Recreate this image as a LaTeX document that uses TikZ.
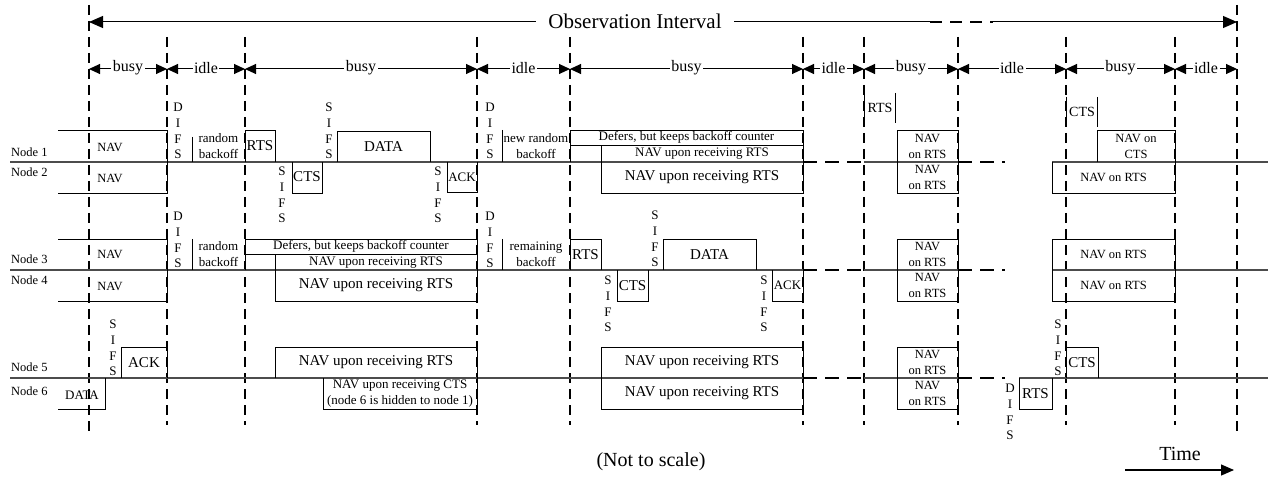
\documentclass[tikz,border=0pt]{standalone}
\usepackage{fontspec}
\setmainfont{Liberation Serif}
\usetikzlibrary{arrows.meta}
\begin{document}
\begin{tikzpicture}[x=1pt,y=-1pt,
  tl/.style={line width=1.1pt, draw=black!70},
  bx/.style={line width=0.9pt},
  vdash/.style={line width=2.4pt, dash pattern=on 10pt off 6pt},
  hdash/.style={line width=2.4pt, dash pattern=on 14pt off 8pt},
  tA/.style={font=\fontsize{13}{16}\selectfont, inner sep=0pt, align=center},
  tN/.style={font=\fontsize{12.5}{16}\selectfont, inner sep=0pt, align=center},
  tB/.style={font=\fontsize{15}{18}\selectfont, inner sep=0pt, align=center},
  vt/.style={font=\fontsize{13}{15.8}\selectfont, inner sep=0pt, align=center},
  lbl/.style={font=\fontsize{12.5}{15}\selectfont, inner sep=0pt, anchor=west},
  segtxt/.style={font=\fontsize{16}{18}\selectfont, fill=white, inner xsep=1.5pt, inner ysep=1pt},
  bitip/.style={{Triangle[length=11pt,width=10pt]}-{Triangle[length=11pt,width=10pt]}, line width=1pt},
]
\useasboundingbox (0,0) rectangle (1268,478);

% ---------- vertical dashed markers ----------
\foreach \x/\t/\b in {89/5/433, 167/37/425, 245/37/425, 477/37/425, 570/37/425,
                      803/37/425, 864/37/425, 958/37/425, 1066/37/425, 1175/37/425, 1237/5/433}
  \draw[vdash] (\x,\t) -- (\x,\b);

% ---------- observation interval ----------
\coordinate (oL) at (89,22);
\coordinate (oD1) at (930,22);
\coordinate (oD2) at (993,22);
\coordinate (oR) at (1237,22);
\draw[line width=1pt, {Triangle[length=14pt,width=12pt]}-] (oL) -- (oD1);
\draw[line width=2pt, dash pattern=on 12pt off 8pt] (oD1) -- (oD2);
\draw[line width=1pt, -{Triangle[length=14pt,width=12pt]}] (oD2) -- (oR);
\node[fill=white, inner xsep=12pt, inner ysep=2pt, font=\fontsize{21}{24}\selectfont] (obs) at (635,21) {Observation Interval};

% ---------- busy / idle ----------
\foreach \a/\b/\w [count=\i] in {89/167/busy, 167/245/idle, 245/477/busy, 477/570/idle, 570/803/busy,
                      803/864/idle, 864/958/busy, 958/1066/idle, 1066/1175/busy, 1175/1237/idle}
{
  \coordinate (sa\i) at (\a,69);
  \coordinate (sb\i) at (\b,69);
  \draw[bitip] (sa\i) -- (sb\i);
  \node[segtxt] (st\i) at ({(\a+\b)/2},68) {\w};
}

% ---------- time lines ----------
\foreach \y/\s in {162/1052, 270/1052, 378/1019}
{
  \draw[tl] (10,\y) -- (803,\y);
  \draw[tl] (864,\y) -- (958,\y);
  \draw[tl] (\s,\y) -- (1268,\y);
  \draw[hdash] (803,\y) -- (864,\y);
  \draw[hdash] (958,\y) -- (1005,\y);
}

% ---------- node labels ----------
\node[lbl] (n1) at (11,152) {Node 1};
\node[lbl] (n2) at (11,172) {Node 2};
\node[lbl] (n3) at (11,259) {Node 3};
\node[lbl] (n4) at (11,280) {Node 4};
\node[lbl] (n5) at (11,367) {Node 5};
\node[lbl] (n6) at (11,391) {Node 6};

% ================= Node 1 / Node 2 =================
\draw[bx] (58,130) -- (167,130) -- (167,193) -- (58,193);
\node[tN] (nav1) at (110,147) {NAV};
\node[tN] (nav2) at (110,178) {NAV};
\node[vt] (difs1a) at (178,131) {D\\I\\F\\S};
\draw[bx] (192,137) -- (192,162);
\node[tA] (rb1) at (218.5,146) {random\\backoff};
\draw[bx] (245,162) -- (245,130) -- (275,130) -- (275,162);
\node[tB] (rts1) at (260,146) {RTS};
\node[vt] (sifs2a) at (282,195) {S\\I\\F\\S};
\draw[bx] (292,162) -- (292,193) -- (322,193) -- (322,162);
\node[tB] (cts2) at (307,177) {CTS};
\node[vt] (sifs1a) at (329,131) {S\\I\\F\\S};
\draw[bx] (337,162) -- (337,131) -- (430,131) -- (430,162);
\node[tB] (data1) at (383.5,146.5) {DATA};
\node[vt] (sifs2b) at (438,195) {S\\I\\F\\S};
\draw[bx] (447,162) -- (447,192) -- (477,192) -- (477,162);
\node[tA] (ack2) at (462,177) {ACK};
\node[vt] (difs1b) at (490,131) {D\\I\\F\\S};
\draw[bx] (502,130) -- (502,162);
\node[tA] (nrb1) at (536,146) {new random\\backoff};
\draw[bx] (570,162) -- (570,130) -- (803,130) -- (803,193) -- (601,193) -- (601,145);
\draw[bx] (570,145) -- (803,145);
\node[tA] (def1) at (686.5,137.5) {Defers, but keeps backoff counter};
\node[tA] (navs1) at (702,154) {NAV upon receiving RTS};
\node[tB] (navb2) at (702,177.5) {NAV upon receiving RTS};
\draw[bx] (864,93) -- (864,123);
\draw[bx] (895,93) -- (895,123);
\node[font=\fontsize{14}{16}\selectfont, inner sep=0pt] (rtsb) at (880,108) {RTS};
\draw[bx] (897,130) rectangle (958,193);
\node[tN] (nr1) at (927.5,146) {NAV\\on RTS};
\node[tN] (nr2) at (927.5,177.5) {NAV\\on RTS};
\draw[bx] (1066,97) -- (1066,127);
\draw[bx] (1097,97) -- (1097,127);
\node[font=\fontsize{14}{16}\selectfont, inner sep=0pt] (ctsb) at (1082,112) {CTS};
\draw[bx] (1097,162) -- (1097,130) -- (1175,130) -- (1175,193) -- (1052,193) -- (1052,162);
\node[tN] (nc1) at (1136,146) {NAV on\\CTS};
\node[tN] (nr2b) at (1113.5,177.5) {NAV on RTS};

% ================= Node 3 / Node 4 =================
\draw[bx] (58,239) -- (167,239) -- (167,301) -- (58,301);
\node[tN] (nav3) at (110,254) {NAV};
\node[tN] (nav4) at (110,286) {NAV};
\node[vt] (difs3a) at (178,240) {D\\I\\F\\S};
\draw[bx] (192,239) -- (192,270);
\node[tA] (rb3) at (218.5,254) {random\\backoff};
\draw[bx] (245,270) -- (245,239) -- (477,239) -- (477,301) -- (275,301) -- (275,254);
\draw[bx] (245,254) -- (477,254);
\node[tA] (def3) at (361,246.5) {Defers, but keeps backoff counter};
\node[tA] (navs3) at (376,262.5) {NAV upon receiving RTS};
\node[tB] (navb4) at (376,285.5) {NAV upon receiving RTS};
\node[vt] (difs3b) at (490,240) {D\\I\\F\\S};
\draw[bx] (502,239) -- (502,270);
\node[tA] (remb) at (536,254) {remaining\\backoff};
\draw[bx] (570,270) -- (570,239) -- (601,239) -- (601,270);
\node[tB] (rts3) at (585.5,254.5) {RTS};
\node[vt] (sifs4a) at (608,304) {S\\I\\F\\S};
\draw[bx] (617,270) -- (617,301) -- (648,301) -- (648,270);
\node[tB] (cts4) at (632.5,285.5) {CTS};
\node[vt] (sifs3a) at (655,239) {S\\I\\F\\S};
\draw[bx] (663,270) -- (663,239) -- (756,239) -- (756,270);
\node[tB] (data3) at (709.5,254.5) {DATA};
\node[vt] (sifs4b) at (764,304) {S\\I\\F\\S};
\draw[bx] (772,270) -- (772,301) -- (803,301) -- (803,270);
\node[tA] (ack4) at (787.5,285.5) {ACK};
\draw[bx] (897,239) rectangle (958,301);
\node[tN] (nr3) at (927.5,254.5) {NAV\\on RTS};
\node[tN] (nr4) at (927.5,285.5) {NAV\\on RTS};
\draw[bx] (1052,239) rectangle (1175,301);
\node[tN] (nr3b) at (1113.5,254.5) {NAV on RTS};
\node[tN] (nr4b) at (1113.5,285.5) {NAV on RTS};

% ================= Node 5 / Node 6 =================
\node[vt] (sifs5a) at (113,348) {S\\I\\F\\S};
\draw[bx] (121,378) -- (121,347) -- (167,347) -- (167,378);
\node[tB] (ack5) at (144,363) {ACK};
\draw[bx] (58,409) -- (105,409) -- (105,378);
\node[tA] (data6) at (82,395) {DATA};
\draw[bx] (275,378) -- (275,347) -- (477,347) -- (477,409) -- (323,409) -- (323,378);
\node[tB] (navb5) at (376,362.5) {NAV upon receiving RTS};
\node[tA] (navc6) at (400,394) {NAV upon receiving CTS\\(node 6 is hidden to node 1)};
\draw[bx] (601,347) rectangle (803,409);
\node[tB] (navb5r) at (702,362.5) {NAV upon receiving RTS};
\node[tB] (navb6r) at (702,393.5) {NAV upon receiving RTS};
\draw[bx] (897,347) rectangle (958,409);
\node[tN] (nr5) at (927.5,362.5) {NAV\\on RTS};
\node[tN] (nr6) at (927.5,393.5) {NAV\\on RTS};
\node[vt] (difs6) at (1010,412) {D\\I\\F\\S};
\draw[bx] (1019,378) -- (1019,409) -- (1052,409) -- (1052,378);
\node[tB] (rts6) at (1035.5,393.5) {RTS};
\node[vt] (sifs5b) at (1058,348) {S\\I\\F\\S};
\draw[bx] (1066,378) -- (1066,347) -- (1098,347) -- (1098,378);
\node[tB] (cts5) at (1082,362.5) {CTS};

% ---------- footer ----------
\node[font=\fontsize{20}{24}\selectfont, inner sep=0pt] (nts) at (651,462) {(Not to scale)};
\node[font=\fontsize{20}{24}\selectfont, inner sep=0pt] (time) at (1180,454) {Time};
\coordinate (tS) at (1125,470);
\coordinate (tE) at (1234,470);
\draw[line width=1.2pt, -{Triangle[length=13pt,width=11pt]}] (tS) -- (tE);
\end{tikzpicture}
\end{document}
